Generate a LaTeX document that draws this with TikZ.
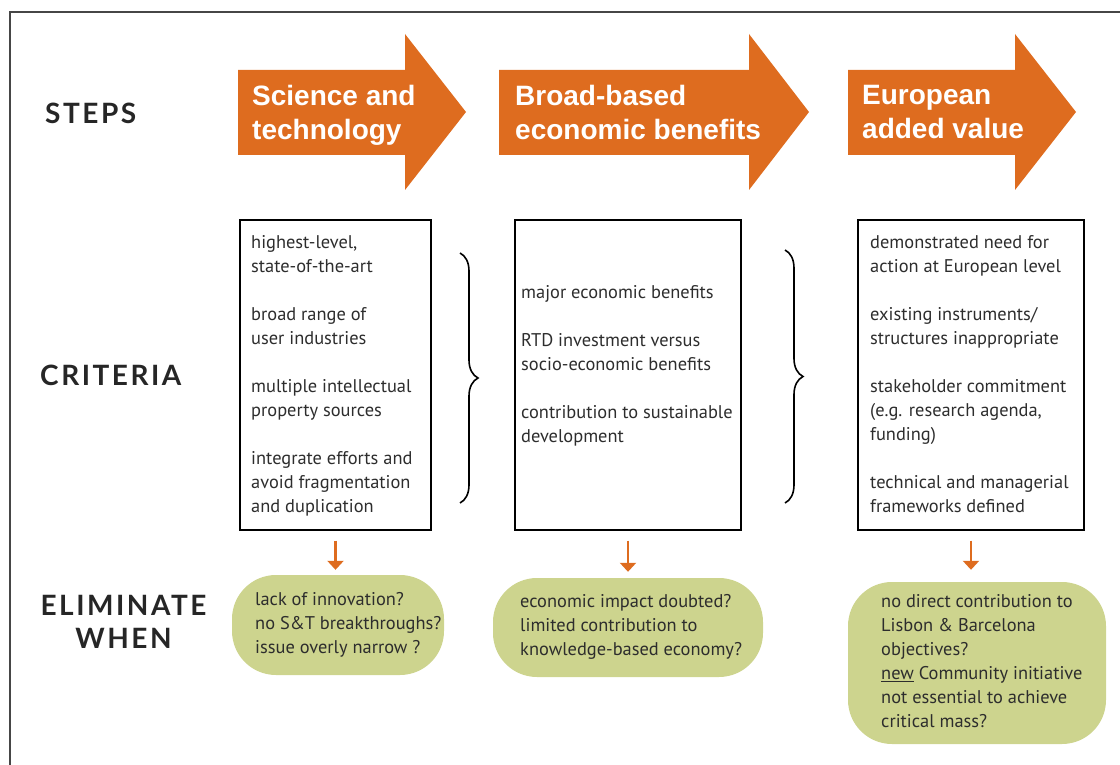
\documentclass[tikz,border=0pt]{standalone}
\usepackage{fontspec}
\setmainfont{PT Sans}
\newfontfamily\headfont[LetterSpace=9]{Lato}
\newfontfamily\stepfont{Liberation Sans}
\usetikzlibrary{decorations.pathreplacing,arrows.meta}

\definecolor{steporange}{RGB}{222,108,31}
\definecolor{elimgreen}{RGB}{205,212,142}
\definecolor{bodygray}{RGB}{45,45,45}
\definecolor{framegray}{RGB}{70,70,70}

\tikzset{
  steplabel/.style={anchor=north west, inner sep=0pt, text=white, align=left,
    font=\stepfont\bfseries\fontsize{28}{34}\selectfont},
  rowlabel/.style={inner sep=0pt, text=black!85, align=center,
    font=\headfont\bfseries\fontsize{28}{33}\selectfont},
  critbox/.style={draw=black, line width=1.1pt, inner sep=0pt},
  crittext/.style={anchor=north west, inner sep=0pt, text=bodygray, align=left,
    font=\fontsize{18.4}{24}\selectfont},
  elimbox/.style={fill=elimgreen, rounded corners=44pt, inner sep=0pt},
  elimarrow/.style={draw=steporange, line width=2.2pt,
    -{Triangle[width=16pt,length=9pt]}},
  bracemark/.style={line width=1.6pt, decorate,
    decoration={brace, amplitude=18pt}}
}

\begin{document}
\begin{tikzpicture}[x=1pt, y=-1pt]
  \useasboundingbox (0,0) rectangle (1120,765);
  \draw[framegray, line width=1.3pt] (10,765) -- (10,12) -- (1120,12);

  % steps
  \foreach \l/\b/\t in {238/405/466, 499/749/809, 848/1015/1076}
    \fill[steporange] (\l,70) -- (\b,70) -- (\b,34) -- (\t,112)
      -- (\b,190) -- (\b,155) -- (\l,155) -- cycle;
  \node[steplabel] (s1) at (252,85) {Science and\\technology};
  \node[steplabel] (s2) at (515,85) {Broad-based\\economic benefits};
  \node[steplabel] (s3) at (862,85) {European\\added value};

  % row labels
  \node[rowlabel, anchor=north west] (steps) at (45,103) {STEPS};
  \node[rowlabel, anchor=north west] (criteria) at (40,365) {CRITERIA};
  \node[rowlabel, anchor=north] (elim) at (123.5,595) {ELIMINATE\\WHEN};

  % criteria
  \node[critbox, minimum width=191pt, minimum height=310pt] (c1) at (335.5,375) {};
  \node[critbox, minimum width=226pt, minimum height=310pt] (c2) at (628,375) {};
  \node[critbox, minimum width=226pt, minimum height=310pt] (c3) at (971,375) {};
  \node[crittext] (t1) at (251,231.2) {\strut highest-level,\\state-of-the-art\\[24pt]
    broad range of\\user industries\\[24pt]multiple intellectual\\property sources\\[24pt]
    integrate efforts and\\avoid fragmentation\\and duplication};
  \node[crittext] (t2) at (521,281.2) {\strut major economic benefits\\[24pt]
    RTD investment versus\\socio-economic benefits\\[24pt]
    contribution to sustainable\\development};
  \node[crittext] (t3) at (870,231.2) {\strut demonstrated need for\\action at European level\\[24pt]
    existing instruments/\\structures inappropriate\\[24pt]
    stakeholder commitment\\(e.g. research agenda,\\funding)\\[24pt]
    technical and managerial\\frameworks defined};
  \draw[bracemark] (460,253) -- (460,503);
  \draw[bracemark] (785,250) -- (785,503);

  % eliminate when
  \node[elimbox, minimum width=212pt, minimum height=100pt] (e1) at (338,625) {};
  \node[elimbox, minimum width=270pt, minimum height=99pt] (e2) at (628,627.5) {};
  \node[elimbox, minimum width=258pt, minimum height=162pt] (e3) at (977,663) {};
  \node[crittext] (u1) at (255,588.2) {\strut lack of innovation?\\no S\&T breakthroughs?\\issue overly narrow ?};
  \node[crittext] (u2) at (520,590.2) {\strut economic impact doubted?\\limited contribution to\\knowledge-based economy?};
  \node[crittext] (u3) at (881,590.2) {\strut no direct contribution to\\Lisbon \& Barcelona\\objectives?\\
    \underline{new} Community initiative\\not essential to achieve\\critical mass?};

  \draw[elimarrow, shorten <=10pt, shorten >=5pt] (c1.south) -- (c1.south |- e1.north);
  \draw[elimarrow, shorten <=10pt, shorten >=6pt] (c2.south) -- (c2.south |- e2.north);
  \draw[elimarrow, shorten <=10pt, shorten >=12pt] (c3.south) -- (c3.south |- e3.north);
\end{tikzpicture}
\end{document}
